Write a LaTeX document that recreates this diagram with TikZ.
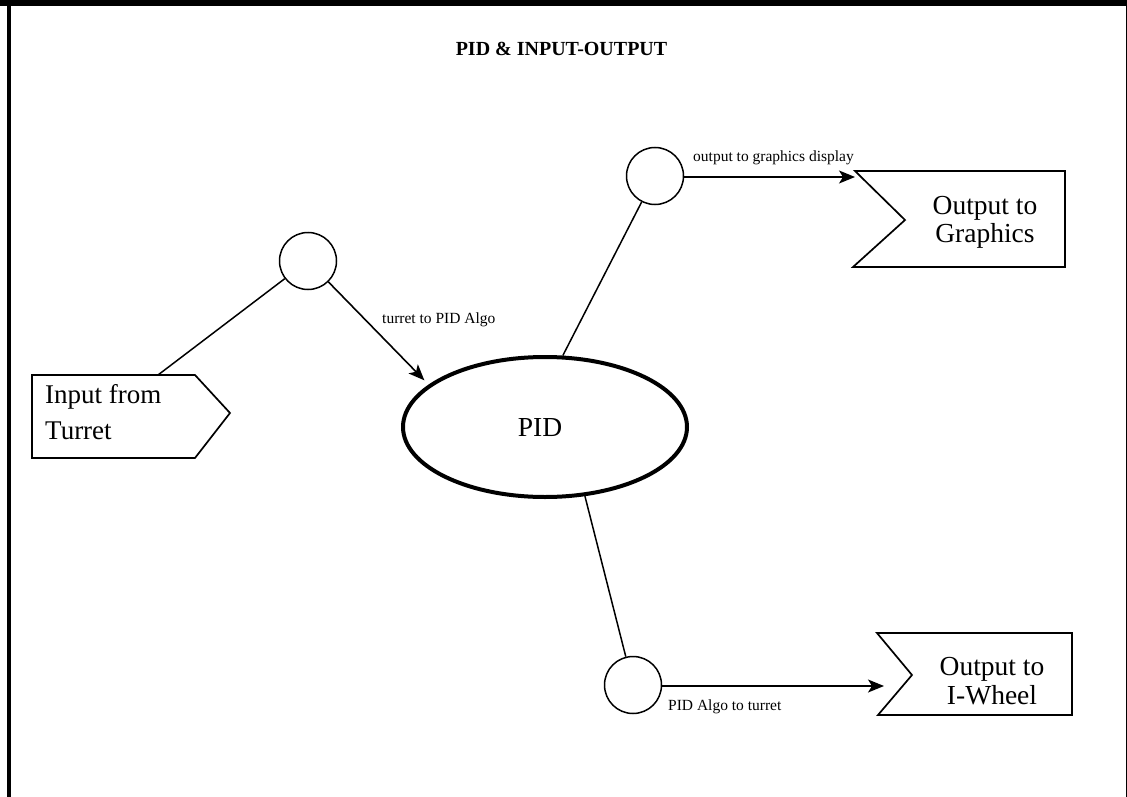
\documentclass[tikz,border=0pt]{standalone}
\usepackage{fontspec}
\setmainfont{Liberation Serif}
\usetikzlibrary{shapes.geometric,arrows.meta}
\begin{document}
\begin{tikzpicture}[x=1pt,y=-1pt,
    ring/.style={draw,circle,line width=1.5pt,minimum size=57pt,inner sep=0pt},
    tag/.style={line width=1.7pt,line join=miter},
    link/.style={line width=1.5pt},
    arr/.style={line width=1.6pt,-{Stealth[length=16pt,width=13pt,inset=4pt]}},
    lbl/.style={font=\fontsize{15.5}{18}\selectfont,inner sep=0pt}]
    \useasboundingbox (0,0) rectangle (1127,797);
    % frame
    \fill (0,0) rectangle (1127,6.5);
    \fill (6.5,0) rectangle (10.5,797);
    \draw[line width=1pt] (1126,0)--(1126,797);
    \node[font=\bfseries\fontsize{20}{24}\selectfont] (title) at (561.5,49) {PID \& INPUT-OUTPUT};
    % tags
    \draw[tag] (32,375)--(195,375)--(230,413)--(195,458)--(32,458)--cycle;
    \draw[tag] (855,171)--(1065,171)--(1065,267)--(853,267)--(905,220)--cycle;
    \draw[tag] (877,633)--(1072,633)--(1072,715)--(878,715)--(912,675)--cycle;
    \node[anchor=west,align=left,inner sep=0pt,font=\fontsize{27}{36}\selectfont] (input) at (45,412) {Input from\\Turret};
    \node[align=center,inner sep=0pt,font=\fontsize{27.5}{28}\selectfont] (gfx) at (985,222) {Output to\\Graphics};
    \node[align=center,inner sep=0pt,font=\fontsize{27.5}{29}\selectfont] (whl) at (992,681) {Output to\\I-Wheel};
    % process and flows
    \node[draw,ellipse,line width=4pt,minimum width=284pt,minimum height=140pt,inner sep=0pt,
        font=\fontsize{27.5}{30}\selectfont,text depth=0pt] (pid) at (545,427) {\hspace*{-10pt}PID};
    \node[ring] (c1) at (308,261) {};
    \node[ring] (c2) at (655,176) {};
    \node[ring] (c3) at (633,685) {};
    \coordinate (inTop) at (158,375);
    \coordinate (gfxIn) at (855,177);
    \coordinate (whlIn) at (884,686);
    \draw[link] (inTop) -- (c1);
    \draw[arr,shorten >=6pt] (c1) -- (pid.160);
    \draw[link] (pid.76) -- (c2);
    \draw[link] (pid.-60) -- (c3);
    \draw[arr] (c2.east |- gfxIn) -- (gfxIn);
    \draw[arr] (c3.east |- whlIn) -- (whlIn);
    \node[lbl,anchor=base west] (l1) at (382,323) {turret to PID Algo};
    \node[lbl,anchor=base west] (l2) at (693,161) {output to graphics display};
    \node[lbl,anchor=base west] (l3) at (668,710) {PID Algo to turret};
\end{tikzpicture}
\end{document}
